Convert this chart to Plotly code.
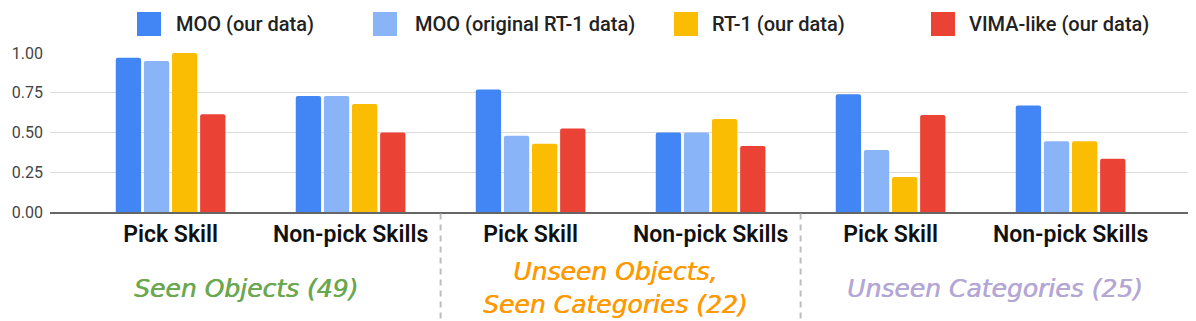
import plotly.graph_objects as go

# skill categories along the x axis (two per object group)
categories = ["Pick Skill", "Non-pick Skills", "Pick Skill", "Non-pick Skills",
              "Pick Skill", "Non-pick Skills"]
groups = ["Seen Objects (49)", "Unseen Objects,<br>Seen Categories (22)",
          "Unseen Categories (25)"]
y_ticks = [0.0, 0.25, 0.5, 0.75, 1.0]

series_names = ["MOO (our data)", "MOO (original RT-1 data)", "RT-1 (our data)",
                "VIMA-like (our data)"]
moo_ours = [0.97, 0.73, 0.77, 0.50, 0.74, 0.67]
moo_rt1 = [0.95, 0.73, 0.48, 0.50, 0.39, 0.445]
rt1_ours = [1.00, 0.68, 0.43, 0.585, 0.22, 0.445]
vima_ours = [0.615, 0.50, 0.525, 0.415, 0.61, 0.335]

COLORS = ["#4285f4", "#8ab4f8", "#fbbc04", "#ea4335"]
GROUP_COLORS = ["#6aa84f", "#ff9900", "#b4a7d6"]
FONT = "Roboto"

xpos = list(range(len(categories)))

fig = go.Figure()
for name, vals, color in zip(series_names, [moo_ours, moo_rt1, rt1_ours, vima_ours], COLORS):
    fig.add_trace(go.Bar(x=xpos, y=vals, name=name, marker_color=color,
                         marker_line_width=0, showlegend=False))

# hand-drawn legend so the swatch size and spacing match the source chart
# (pixel positions are page coords; plot area spans x 50..1193, y 53..212)
legend_sq = [137, 373, 674, 931]
legend_txt = [174, 413, 710, 967]
for name, color, sq, tx in zip(series_names, COLORS, legend_sq, legend_txt):
    fig.add_shape(type="rect", xref="paper", yref="paper",
                  xsizemode="pixel", ysizemode="pixel",
                  xanchor=(sq - 50) / 1143, yanchor=(212 - 24) / 159,
                  x0=0, x1=24, y0=-12, y1=12,
                  fillcolor=color, line_width=0)
    fig.add_annotation(text=name, xref="paper", yref="paper",
                       x=(tx - 50) / 1143, y=(212 - 24) / 159,
                       xanchor="left", yanchor="middle", showarrow=False,
                       font=dict(family=FONT, size=20, color="#222", weight=500))

# dashed separators between object groups
for xd in [1.5, 3.5]:
    fig.add_shape(type="line", xref="x", yref="paper", x0=xd, x1=xd,
                  y0=-0.01, y1=-0.72, line=dict(color="#bdbdbd", width=2, dash="6px,5px"))

# group titles (a same-colour shadow gives a medium weight)
for text, color, xc in zip(groups, GROUP_COLORS, [0.417, 2.467, 4.578]):
    fig.add_annotation(text=f"<i>{text}</i>", xref="x", yref="paper", x=xc, y=-0.478,
                       xanchor="center", yanchor="middle", showarrow=False,
                       font=dict(family="DejaVu Sans", size=25, color=color,
                                 shadow=f"0.6px 0 0 {color}"))

# the page body adds an 8px margin, so the figure is 8px smaller than the window
fig.update_layout(
    width=1188, height=313,
    margin=dict(l=42, r=3, t=45, b=109),
    barmode="group", bargap=0.375, bargroupgap=0.1, barcornerradius=2,
    plot_bgcolor="white", paper_bgcolor="white",
    font=dict(family=FONT),
)
fig.update_xaxes(range=[-0.67, 5.68], tickvals=xpos, ticktext=categories,
                 showgrid=False, showline=True, linecolor="#666", linewidth=1.5,
                 ticks="", ticklabelstandoff=1,
                 tickfont=dict(family=FONT, size=23, color="#111", weight=600))
fig.update_yaxes(range=[0, 1.0], tickvals=y_ticks, tickformat=".2f",
                 showgrid=True, gridcolor="#dcdcdc", gridwidth=1, zeroline=False,
                 ticklabelstandoff=6,
                 tickfont=dict(family=FONT, size=16, color="#444"))

fig.write_html("out.html")
